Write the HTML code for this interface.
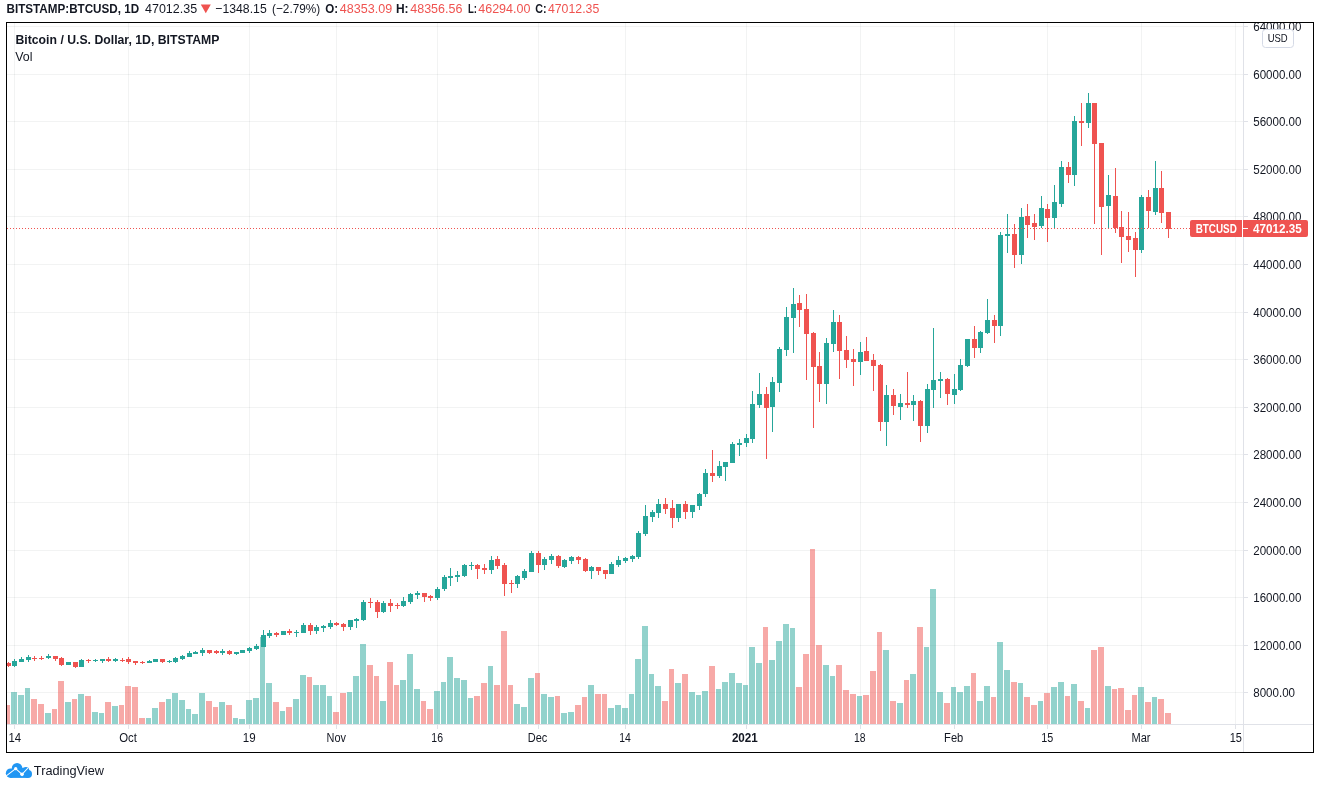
<!DOCTYPE html>
<html><head><meta charset="utf-8"><title>BTCUSD</title>
<style>html,body{margin:0;padding:0;background:#fff;}body{width:1320px;height:789px;overflow:hidden;font-family:"Liberation Sans",sans-serif;}svg{display:block;will-change:transform;}text{font-family:"Liberation Sans",sans-serif;}</style>
</head><body>
<svg width="1320" height="789" viewBox="0 0 1320 789">
<rect x="0" y="0" width="1320" height="789" fill="#ffffff"/>
<defs><clipPath id="pane"><rect x="7" y="23" width="1236" height="701"/></clipPath><clipPath id="inner"><rect x="7" y="23" width="1306" height="729"/></clipPath></defs>
<g shape-rendering="crispEdges" fill="rgba(42,46,57,0.06)">
<rect x="14" y="23" width="1" height="701"/>
<rect x="128" y="23" width="1" height="701"/>
<rect x="249" y="23" width="1" height="701"/>
<rect x="336" y="23" width="1" height="701"/>
<rect x="437" y="23" width="1" height="701"/>
<rect x="538" y="23" width="1" height="701"/>
<rect x="625" y="23" width="1" height="701"/>
<rect x="746" y="23" width="1" height="701"/>
<rect x="860" y="23" width="1" height="701"/>
<rect x="954" y="23" width="1" height="701"/>
<rect x="1047" y="23" width="1" height="701"/>
<rect x="1141" y="23" width="1" height="701"/>
<rect x="1235" y="23" width="1" height="701"/>
<rect x="7" y="26" width="1236" height="1"/>
<rect x="7" y="74" width="1236" height="1"/>
<rect x="7" y="121" width="1236" height="1"/>
<rect x="7" y="169" width="1236" height="1"/>
<rect x="7" y="216" width="1236" height="1"/>
<rect x="7" y="264" width="1236" height="1"/>
<rect x="7" y="312" width="1236" height="1"/>
<rect x="7" y="359" width="1236" height="1"/>
<rect x="7" y="407" width="1236" height="1"/>
<rect x="7" y="454" width="1236" height="1"/>
<rect x="7" y="502" width="1236" height="1"/>
<rect x="7" y="550" width="1236" height="1"/>
<rect x="7" y="597" width="1236" height="1"/>
<rect x="7" y="645" width="1236" height="1"/>
<rect x="7" y="692" width="1236" height="1"/>
</g>
<g shape-rendering="crispEdges" clip-path="url(#pane)">
<rect x="5" y="705" width="5" height="19" fill="rgba(239,83,80,0.5)"/>
<rect x="11" y="692" width="6" height="32" fill="rgba(38,166,154,0.5)"/>
<rect x="18" y="695" width="6" height="29" fill="rgba(38,166,154,0.5)"/>
<rect x="25" y="688" width="5" height="36" fill="rgba(38,166,154,0.5)"/>
<rect x="31" y="699" width="6" height="25" fill="rgba(239,83,80,0.5)"/>
<rect x="38" y="704" width="6" height="20" fill="rgba(239,83,80,0.5)"/>
<rect x="45" y="713" width="6" height="11" fill="rgba(38,166,154,0.5)"/>
<rect x="52" y="709" width="5" height="15" fill="rgba(239,83,80,0.5)"/>
<rect x="58" y="681" width="6" height="43" fill="rgba(239,83,80,0.5)"/>
<rect x="65" y="702" width="6" height="22" fill="rgba(38,166,154,0.5)"/>
<rect x="72" y="699" width="5" height="25" fill="rgba(239,83,80,0.5)"/>
<rect x="78" y="694" width="6" height="30" fill="rgba(38,166,154,0.5)"/>
<rect x="85" y="696" width="6" height="28" fill="rgba(239,83,80,0.5)"/>
<rect x="92" y="712" width="6" height="12" fill="rgba(38,166,154,0.5)"/>
<rect x="99" y="713" width="5" height="11" fill="rgba(38,166,154,0.5)"/>
<rect x="105" y="702" width="6" height="22" fill="rgba(239,83,80,0.5)"/>
<rect x="112" y="706" width="6" height="18" fill="rgba(38,166,154,0.5)"/>
<rect x="119" y="705" width="5" height="19" fill="rgba(239,83,80,0.5)"/>
<rect x="125" y="686" width="6" height="38" fill="rgba(239,83,80,0.5)"/>
<rect x="132" y="687" width="6" height="37" fill="rgba(239,83,80,0.5)"/>
<rect x="139" y="718" width="6" height="6" fill="rgba(239,83,80,0.5)"/>
<rect x="146" y="718" width="5" height="6" fill="rgba(38,166,154,0.5)"/>
<rect x="152" y="708" width="6" height="16" fill="rgba(38,166,154,0.5)"/>
<rect x="159" y="702" width="6" height="22" fill="rgba(239,83,80,0.5)"/>
<rect x="166" y="699" width="5" height="25" fill="rgba(38,166,154,0.5)"/>
<rect x="172" y="693" width="6" height="31" fill="rgba(38,166,154,0.5)"/>
<rect x="179" y="700" width="6" height="24" fill="rgba(38,166,154,0.5)"/>
<rect x="186" y="709" width="5" height="15" fill="rgba(38,166,154,0.5)"/>
<rect x="192" y="714" width="6" height="10" fill="rgba(38,166,154,0.5)"/>
<rect x="199" y="693" width="6" height="31" fill="rgba(38,166,154,0.5)"/>
<rect x="206" y="701" width="6" height="23" fill="rgba(239,83,80,0.5)"/>
<rect x="213" y="707" width="5" height="17" fill="rgba(239,83,80,0.5)"/>
<rect x="219" y="702" width="6" height="22" fill="rgba(38,166,154,0.5)"/>
<rect x="226" y="705" width="6" height="19" fill="rgba(239,83,80,0.5)"/>
<rect x="233" y="718" width="5" height="6" fill="rgba(38,166,154,0.5)"/>
<rect x="239" y="719" width="6" height="5" fill="rgba(38,166,154,0.5)"/>
<rect x="246" y="700" width="6" height="24" fill="rgba(38,166,154,0.5)"/>
<rect x="253" y="698" width="6" height="26" fill="rgba(38,166,154,0.5)"/>
<rect x="260" y="637" width="5" height="87" fill="rgba(38,166,154,0.5)"/>
<rect x="266" y="683" width="6" height="41" fill="rgba(38,166,154,0.5)"/>
<rect x="273" y="702" width="6" height="22" fill="rgba(239,83,80,0.5)"/>
<rect x="280" y="711" width="5" height="13" fill="rgba(38,166,154,0.5)"/>
<rect x="286" y="707" width="6" height="17" fill="rgba(239,83,80,0.5)"/>
<rect x="293" y="699" width="6" height="25" fill="rgba(38,166,154,0.5)"/>
<rect x="300" y="675" width="6" height="49" fill="rgba(38,166,154,0.5)"/>
<rect x="307" y="677" width="5" height="47" fill="rgba(239,83,80,0.5)"/>
<rect x="313" y="685" width="6" height="39" fill="rgba(38,166,154,0.5)"/>
<rect x="320" y="685" width="6" height="39" fill="rgba(38,166,154,0.5)"/>
<rect x="327" y="696" width="5" height="28" fill="rgba(38,166,154,0.5)"/>
<rect x="333" y="712" width="6" height="12" fill="rgba(239,83,80,0.5)"/>
<rect x="340" y="693" width="6" height="31" fill="rgba(239,83,80,0.5)"/>
<rect x="347" y="692" width="5" height="32" fill="rgba(38,166,154,0.5)"/>
<rect x="353" y="676" width="6" height="48" fill="rgba(38,166,154,0.5)"/>
<rect x="360" y="644" width="6" height="80" fill="rgba(38,166,154,0.5)"/>
<rect x="367" y="665" width="6" height="59" fill="rgba(239,83,80,0.5)"/>
<rect x="374" y="676" width="5" height="48" fill="rgba(239,83,80,0.5)"/>
<rect x="380" y="701" width="6" height="23" fill="rgba(38,166,154,0.5)"/>
<rect x="387" y="662" width="6" height="62" fill="rgba(239,83,80,0.5)"/>
<rect x="394" y="685" width="5" height="39" fill="rgba(239,83,80,0.5)"/>
<rect x="400" y="680" width="6" height="44" fill="rgba(38,166,154,0.5)"/>
<rect x="407" y="654" width="6" height="70" fill="rgba(38,166,154,0.5)"/>
<rect x="414" y="689" width="6" height="35" fill="rgba(38,166,154,0.5)"/>
<rect x="421" y="701" width="5" height="23" fill="rgba(239,83,80,0.5)"/>
<rect x="427" y="709" width="6" height="15" fill="rgba(239,83,80,0.5)"/>
<rect x="434" y="691" width="6" height="33" fill="rgba(38,166,154,0.5)"/>
<rect x="441" y="682" width="5" height="42" fill="rgba(38,166,154,0.5)"/>
<rect x="447" y="657" width="6" height="67" fill="rgba(38,166,154,0.5)"/>
<rect x="454" y="678" width="6" height="46" fill="rgba(38,166,154,0.5)"/>
<rect x="461" y="680" width="6" height="44" fill="rgba(38,166,154,0.5)"/>
<rect x="468" y="698" width="5" height="26" fill="rgba(38,166,154,0.5)"/>
<rect x="474" y="696" width="6" height="28" fill="rgba(239,83,80,0.5)"/>
<rect x="481" y="683" width="6" height="41" fill="rgba(239,83,80,0.5)"/>
<rect x="488" y="666" width="5" height="58" fill="rgba(38,166,154,0.5)"/>
<rect x="494" y="685" width="6" height="39" fill="rgba(239,83,80,0.5)"/>
<rect x="501" y="631" width="6" height="93" fill="rgba(239,83,80,0.5)"/>
<rect x="508" y="685" width="5" height="39" fill="rgba(239,83,80,0.5)"/>
<rect x="514" y="704" width="6" height="20" fill="rgba(38,166,154,0.5)"/>
<rect x="521" y="707" width="6" height="17" fill="rgba(38,166,154,0.5)"/>
<rect x="528" y="678" width="6" height="46" fill="rgba(38,166,154,0.5)"/>
<rect x="535" y="673" width="5" height="51" fill="rgba(239,83,80,0.5)"/>
<rect x="541" y="694" width="6" height="30" fill="rgba(38,166,154,0.5)"/>
<rect x="548" y="697" width="6" height="27" fill="rgba(38,166,154,0.5)"/>
<rect x="555" y="696" width="5" height="28" fill="rgba(239,83,80,0.5)"/>
<rect x="561" y="713" width="6" height="11" fill="rgba(38,166,154,0.5)"/>
<rect x="568" y="712" width="6" height="12" fill="rgba(38,166,154,0.5)"/>
<rect x="575" y="705" width="6" height="19" fill="rgba(239,83,80,0.5)"/>
<rect x="582" y="697" width="5" height="27" fill="rgba(239,83,80,0.5)"/>
<rect x="588" y="685" width="6" height="39" fill="rgba(38,166,154,0.5)"/>
<rect x="595" y="694" width="6" height="30" fill="rgba(239,83,80,0.5)"/>
<rect x="602" y="694" width="5" height="30" fill="rgba(239,83,80,0.5)"/>
<rect x="608" y="708" width="6" height="16" fill="rgba(38,166,154,0.5)"/>
<rect x="615" y="705" width="6" height="19" fill="rgba(38,166,154,0.5)"/>
<rect x="622" y="708" width="6" height="16" fill="rgba(38,166,154,0.5)"/>
<rect x="629" y="694" width="5" height="30" fill="rgba(38,166,154,0.5)"/>
<rect x="635" y="659" width="6" height="65" fill="rgba(38,166,154,0.5)"/>
<rect x="642" y="626" width="6" height="98" fill="rgba(38,166,154,0.5)"/>
<rect x="649" y="674" width="5" height="50" fill="rgba(38,166,154,0.5)"/>
<rect x="655" y="686" width="6" height="38" fill="rgba(38,166,154,0.5)"/>
<rect x="662" y="701" width="6" height="23" fill="rgba(239,83,80,0.5)"/>
<rect x="669" y="669" width="5" height="55" fill="rgba(239,83,80,0.5)"/>
<rect x="675" y="683" width="6" height="41" fill="rgba(38,166,154,0.5)"/>
<rect x="682" y="674" width="6" height="50" fill="rgba(239,83,80,0.5)"/>
<rect x="689" y="692" width="6" height="32" fill="rgba(38,166,154,0.5)"/>
<rect x="696" y="695" width="5" height="29" fill="rgba(38,166,154,0.5)"/>
<rect x="702" y="691" width="6" height="33" fill="rgba(38,166,154,0.5)"/>
<rect x="709" y="666" width="6" height="58" fill="rgba(239,83,80,0.5)"/>
<rect x="716" y="689" width="5" height="35" fill="rgba(38,166,154,0.5)"/>
<rect x="722" y="682" width="6" height="42" fill="rgba(38,166,154,0.5)"/>
<rect x="729" y="673" width="6" height="51" fill="rgba(38,166,154,0.5)"/>
<rect x="736" y="683" width="6" height="41" fill="rgba(38,166,154,0.5)"/>
<rect x="743" y="685" width="5" height="39" fill="rgba(38,166,154,0.5)"/>
<rect x="749" y="647" width="6" height="77" fill="rgba(38,166,154,0.5)"/>
<rect x="756" y="663" width="6" height="61" fill="rgba(38,166,154,0.5)"/>
<rect x="763" y="627" width="5" height="97" fill="rgba(239,83,80,0.5)"/>
<rect x="769" y="660" width="6" height="64" fill="rgba(38,166,154,0.5)"/>
<rect x="776" y="641" width="6" height="83" fill="rgba(38,166,154,0.5)"/>
<rect x="783" y="624" width="6" height="100" fill="rgba(38,166,154,0.5)"/>
<rect x="790" y="628" width="5" height="96" fill="rgba(38,166,154,0.5)"/>
<rect x="796" y="687" width="6" height="37" fill="rgba(239,83,80,0.5)"/>
<rect x="803" y="654" width="6" height="70" fill="rgba(239,83,80,0.5)"/>
<rect x="810" y="549" width="5" height="175" fill="rgba(239,83,80,0.5)"/>
<rect x="816" y="645" width="6" height="79" fill="rgba(239,83,80,0.5)"/>
<rect x="823" y="665" width="6" height="59" fill="rgba(38,166,154,0.5)"/>
<rect x="830" y="676" width="5" height="48" fill="rgba(38,166,154,0.5)"/>
<rect x="836" y="665" width="6" height="59" fill="rgba(239,83,80,0.5)"/>
<rect x="843" y="690" width="6" height="34" fill="rgba(239,83,80,0.5)"/>
<rect x="850" y="694" width="6" height="30" fill="rgba(239,83,80,0.5)"/>
<rect x="857" y="696" width="5" height="28" fill="rgba(38,166,154,0.5)"/>
<rect x="863" y="695" width="6" height="29" fill="rgba(239,83,80,0.5)"/>
<rect x="870" y="671" width="6" height="53" fill="rgba(239,83,80,0.5)"/>
<rect x="877" y="632" width="5" height="92" fill="rgba(239,83,80,0.5)"/>
<rect x="883" y="650" width="6" height="74" fill="rgba(38,166,154,0.5)"/>
<rect x="890" y="701" width="6" height="23" fill="rgba(239,83,80,0.5)"/>
<rect x="897" y="703" width="6" height="21" fill="rgba(38,166,154,0.5)"/>
<rect x="904" y="680" width="5" height="44" fill="rgba(239,83,80,0.5)"/>
<rect x="910" y="674" width="6" height="50" fill="rgba(38,166,154,0.5)"/>
<rect x="917" y="627" width="6" height="97" fill="rgba(239,83,80,0.5)"/>
<rect x="924" y="647" width="5" height="77" fill="rgba(38,166,154,0.5)"/>
<rect x="930" y="589" width="6" height="135" fill="rgba(38,166,154,0.5)"/>
<rect x="937" y="692" width="6" height="32" fill="rgba(38,166,154,0.5)"/>
<rect x="944" y="703" width="6" height="21" fill="rgba(239,83,80,0.5)"/>
<rect x="951" y="687" width="5" height="37" fill="rgba(38,166,154,0.5)"/>
<rect x="957" y="692" width="6" height="32" fill="rgba(38,166,154,0.5)"/>
<rect x="964" y="686" width="6" height="38" fill="rgba(38,166,154,0.5)"/>
<rect x="971" y="673" width="5" height="51" fill="rgba(239,83,80,0.5)"/>
<rect x="977" y="701" width="6" height="23" fill="rgba(38,166,154,0.5)"/>
<rect x="984" y="686" width="6" height="38" fill="rgba(38,166,154,0.5)"/>
<rect x="991" y="697" width="5" height="27" fill="rgba(239,83,80,0.5)"/>
<rect x="997" y="642" width="6" height="82" fill="rgba(38,166,154,0.5)"/>
<rect x="1004" y="670" width="6" height="54" fill="rgba(38,166,154,0.5)"/>
<rect x="1011" y="682" width="6" height="42" fill="rgba(239,83,80,0.5)"/>
<rect x="1018" y="683" width="5" height="41" fill="rgba(38,166,154,0.5)"/>
<rect x="1024" y="697" width="6" height="27" fill="rgba(239,83,80,0.5)"/>
<rect x="1031" y="705" width="6" height="19" fill="rgba(239,83,80,0.5)"/>
<rect x="1038" y="701" width="5" height="23" fill="rgba(38,166,154,0.5)"/>
<rect x="1044" y="693" width="6" height="31" fill="rgba(239,83,80,0.5)"/>
<rect x="1051" y="687" width="6" height="37" fill="rgba(38,166,154,0.5)"/>
<rect x="1058" y="682" width="6" height="42" fill="rgba(38,166,154,0.5)"/>
<rect x="1065" y="696" width="5" height="28" fill="rgba(239,83,80,0.5)"/>
<rect x="1071" y="684" width="6" height="40" fill="rgba(38,166,154,0.5)"/>
<rect x="1078" y="701" width="6" height="23" fill="rgba(239,83,80,0.5)"/>
<rect x="1085" y="708" width="5" height="16" fill="rgba(38,166,154,0.5)"/>
<rect x="1091" y="650" width="6" height="74" fill="rgba(239,83,80,0.5)"/>
<rect x="1098" y="647" width="6" height="77" fill="rgba(239,83,80,0.5)"/>
<rect x="1105" y="686" width="6" height="38" fill="rgba(38,166,154,0.5)"/>
<rect x="1112" y="689" width="5" height="35" fill="rgba(239,83,80,0.5)"/>
<rect x="1118" y="688" width="6" height="36" fill="rgba(239,83,80,0.5)"/>
<rect x="1125" y="710" width="6" height="14" fill="rgba(239,83,80,0.5)"/>
<rect x="1132" y="695" width="5" height="29" fill="rgba(239,83,80,0.5)"/>
<rect x="1138" y="687" width="6" height="37" fill="rgba(38,166,154,0.5)"/>
<rect x="1145" y="702" width="6" height="22" fill="rgba(239,83,80,0.5)"/>
<rect x="1152" y="697" width="5" height="27" fill="rgba(38,166,154,0.5)"/>
<rect x="1158" y="699" width="6" height="25" fill="rgba(239,83,80,0.5)"/>
<rect x="1165" y="713" width="6" height="11" fill="rgba(239,83,80,0.5)"/>
</g>
<g shape-rendering="crispEdges" clip-path="url(#pane)">
<rect x="8" y="662" width="1" height="5" fill="#ef5350"/>
<rect x="6" y="663" width="5" height="3" fill="#ef5350"/>
<rect x="14" y="659" width="1" height="8" fill="#26a69a"/>
<rect x="12" y="661" width="5" height="5" fill="#26a69a"/>
<rect x="21" y="657" width="1" height="5" fill="#26a69a"/>
<rect x="19" y="659" width="5" height="3" fill="#26a69a"/>
<rect x="28" y="655" width="1" height="7" fill="#26a69a"/>
<rect x="26" y="657" width="5" height="3" fill="#26a69a"/>
<rect x="34" y="656" width="1" height="5" fill="#ef5350"/>
<rect x="32" y="658" width="5" height="1" fill="#ef5350"/>
<rect x="41" y="656" width="1" height="4" fill="#ef5350"/>
<rect x="39" y="658" width="5" height="1" fill="#ef5350"/>
<rect x="48" y="654" width="1" height="5" fill="#26a69a"/>
<rect x="46" y="656" width="5" height="2" fill="#26a69a"/>
<rect x="55" y="656" width="1" height="5" fill="#ef5350"/>
<rect x="53" y="656" width="5" height="3" fill="#ef5350"/>
<rect x="61" y="657" width="1" height="9" fill="#ef5350"/>
<rect x="59" y="658" width="5" height="7" fill="#ef5350"/>
<rect x="68" y="662" width="1" height="3" fill="#26a69a"/>
<rect x="66" y="662" width="5" height="3" fill="#26a69a"/>
<rect x="75" y="662" width="1" height="6" fill="#ef5350"/>
<rect x="73" y="662" width="5" height="5" fill="#ef5350"/>
<rect x="81" y="659" width="1" height="8" fill="#26a69a"/>
<rect x="79" y="660" width="5" height="7" fill="#26a69a"/>
<rect x="88" y="659" width="1" height="4" fill="#ef5350"/>
<rect x="86" y="660" width="5" height="1" fill="#ef5350"/>
<rect x="95" y="659" width="1" height="3" fill="#26a69a"/>
<rect x="93" y="660" width="5" height="1" fill="#26a69a"/>
<rect x="102" y="659" width="1" height="4" fill="#26a69a"/>
<rect x="100" y="659" width="5" height="2" fill="#26a69a"/>
<rect x="108" y="657" width="1" height="5" fill="#ef5350"/>
<rect x="106" y="659" width="5" height="2" fill="#ef5350"/>
<rect x="115" y="658" width="1" height="4" fill="#26a69a"/>
<rect x="113" y="659" width="5" height="2" fill="#26a69a"/>
<rect x="122" y="658" width="1" height="4" fill="#ef5350"/>
<rect x="120" y="660" width="5" height="1" fill="#ef5350"/>
<rect x="128" y="657" width="1" height="7" fill="#ef5350"/>
<rect x="126" y="659" width="5" height="3" fill="#ef5350"/>
<rect x="135" y="661" width="1" height="4" fill="#ef5350"/>
<rect x="133" y="661" width="5" height="2" fill="#ef5350"/>
<rect x="142" y="661" width="1" height="3" fill="#ef5350"/>
<rect x="140" y="662" width="5" height="1" fill="#ef5350"/>
<rect x="149" y="660" width="1" height="3" fill="#26a69a"/>
<rect x="147" y="661" width="5" height="2" fill="#26a69a"/>
<rect x="155" y="659" width="1" height="3" fill="#26a69a"/>
<rect x="153" y="659" width="5" height="3" fill="#26a69a"/>
<rect x="162" y="659" width="1" height="4" fill="#ef5350"/>
<rect x="160" y="659" width="5" height="3" fill="#ef5350"/>
<rect x="169" y="660" width="1" height="3" fill="#26a69a"/>
<rect x="167" y="661" width="5" height="1" fill="#26a69a"/>
<rect x="175" y="657" width="1" height="6" fill="#26a69a"/>
<rect x="173" y="658" width="5" height="4" fill="#26a69a"/>
<rect x="182" y="655" width="1" height="5" fill="#26a69a"/>
<rect x="180" y="656" width="5" height="3" fill="#26a69a"/>
<rect x="189" y="651" width="1" height="6" fill="#26a69a"/>
<rect x="187" y="653" width="5" height="4" fill="#26a69a"/>
<rect x="195" y="651" width="1" height="3" fill="#26a69a"/>
<rect x="193" y="652" width="5" height="2" fill="#26a69a"/>
<rect x="202" y="648" width="1" height="8" fill="#26a69a"/>
<rect x="200" y="650" width="5" height="3" fill="#26a69a"/>
<rect x="209" y="650" width="1" height="4" fill="#ef5350"/>
<rect x="207" y="650" width="5" height="3" fill="#ef5350"/>
<rect x="216" y="650" width="1" height="4" fill="#ef5350"/>
<rect x="214" y="651" width="5" height="2" fill="#ef5350"/>
<rect x="222" y="649" width="1" height="6" fill="#26a69a"/>
<rect x="220" y="651" width="5" height="2" fill="#26a69a"/>
<rect x="229" y="650" width="1" height="5" fill="#ef5350"/>
<rect x="227" y="651" width="5" height="3" fill="#ef5350"/>
<rect x="236" y="652" width="1" height="3" fill="#26a69a"/>
<rect x="234" y="652" width="5" height="2" fill="#26a69a"/>
<rect x="242" y="650" width="1" height="3" fill="#26a69a"/>
<rect x="240" y="650" width="5" height="3" fill="#26a69a"/>
<rect x="249" y="647" width="1" height="6" fill="#26a69a"/>
<rect x="247" y="648" width="5" height="3" fill="#26a69a"/>
<rect x="256" y="644" width="1" height="6" fill="#26a69a"/>
<rect x="254" y="646" width="5" height="3" fill="#26a69a"/>
<rect x="263" y="630" width="1" height="17" fill="#26a69a"/>
<rect x="261" y="635" width="5" height="12" fill="#26a69a"/>
<rect x="269" y="630" width="1" height="8" fill="#26a69a"/>
<rect x="267" y="633" width="5" height="3" fill="#26a69a"/>
<rect x="276" y="632" width="1" height="5" fill="#ef5350"/>
<rect x="274" y="633" width="5" height="2" fill="#ef5350"/>
<rect x="283" y="631" width="1" height="4" fill="#26a69a"/>
<rect x="281" y="631" width="5" height="4" fill="#26a69a"/>
<rect x="289" y="629" width="1" height="6" fill="#ef5350"/>
<rect x="287" y="631" width="5" height="2" fill="#ef5350"/>
<rect x="296" y="630" width="1" height="7" fill="#26a69a"/>
<rect x="294" y="632" width="5" height="1" fill="#26a69a"/>
<rect x="303" y="623" width="1" height="10" fill="#26a69a"/>
<rect x="301" y="625" width="5" height="8" fill="#26a69a"/>
<rect x="310" y="623" width="1" height="12" fill="#ef5350"/>
<rect x="308" y="625" width="5" height="6" fill="#ef5350"/>
<rect x="316" y="625" width="1" height="9" fill="#26a69a"/>
<rect x="314" y="627" width="5" height="4" fill="#26a69a"/>
<rect x="323" y="625" width="1" height="7" fill="#26a69a"/>
<rect x="321" y="626" width="5" height="2" fill="#26a69a"/>
<rect x="330" y="620" width="1" height="9" fill="#26a69a"/>
<rect x="328" y="623" width="5" height="4" fill="#26a69a"/>
<rect x="336" y="622" width="1" height="4" fill="#ef5350"/>
<rect x="334" y="623" width="5" height="2" fill="#ef5350"/>
<rect x="343" y="623" width="1" height="8" fill="#ef5350"/>
<rect x="341" y="624" width="5" height="3" fill="#ef5350"/>
<rect x="350" y="620" width="1" height="10" fill="#26a69a"/>
<rect x="348" y="620" width="5" height="7" fill="#26a69a"/>
<rect x="356" y="618" width="1" height="10" fill="#26a69a"/>
<rect x="354" y="619" width="5" height="2" fill="#26a69a"/>
<rect x="363" y="600" width="1" height="21" fill="#26a69a"/>
<rect x="361" y="602" width="5" height="18" fill="#26a69a"/>
<rect x="370" y="598" width="1" height="10" fill="#ef5350"/>
<rect x="368" y="602" width="5" height="1" fill="#ef5350"/>
<rect x="377" y="600" width="1" height="18" fill="#ef5350"/>
<rect x="375" y="602" width="5" height="10" fill="#ef5350"/>
<rect x="383" y="601" width="1" height="12" fill="#26a69a"/>
<rect x="381" y="603" width="5" height="9" fill="#26a69a"/>
<rect x="390" y="599" width="1" height="13" fill="#ef5350"/>
<rect x="388" y="603" width="5" height="3" fill="#ef5350"/>
<rect x="397" y="603" width="1" height="6" fill="#ef5350"/>
<rect x="395" y="605" width="5" height="1" fill="#ef5350"/>
<rect x="403" y="597" width="1" height="10" fill="#26a69a"/>
<rect x="401" y="601" width="5" height="5" fill="#26a69a"/>
<rect x="410" y="593" width="1" height="11" fill="#26a69a"/>
<rect x="408" y="594" width="5" height="8" fill="#26a69a"/>
<rect x="417" y="591" width="1" height="8" fill="#26a69a"/>
<rect x="415" y="593" width="5" height="2" fill="#26a69a"/>
<rect x="424" y="593" width="1" height="9" fill="#ef5350"/>
<rect x="422" y="593" width="5" height="4" fill="#ef5350"/>
<rect x="430" y="595" width="1" height="6" fill="#ef5350"/>
<rect x="428" y="596" width="5" height="2" fill="#ef5350"/>
<rect x="437" y="587" width="1" height="13" fill="#26a69a"/>
<rect x="435" y="589" width="5" height="9" fill="#26a69a"/>
<rect x="444" y="575" width="1" height="16" fill="#26a69a"/>
<rect x="442" y="577" width="5" height="12" fill="#26a69a"/>
<rect x="450" y="568" width="1" height="18" fill="#26a69a"/>
<rect x="448" y="576" width="5" height="2" fill="#26a69a"/>
<rect x="457" y="571" width="1" height="11" fill="#26a69a"/>
<rect x="455" y="575" width="5" height="2" fill="#26a69a"/>
<rect x="464" y="564" width="1" height="13" fill="#26a69a"/>
<rect x="462" y="565" width="5" height="11" fill="#26a69a"/>
<rect x="471" y="562" width="1" height="8" fill="#26a69a"/>
<rect x="469" y="565" width="5" height="1" fill="#26a69a"/>
<rect x="477" y="564" width="1" height="15" fill="#ef5350"/>
<rect x="475" y="565" width="5" height="4" fill="#ef5350"/>
<rect x="484" y="564" width="1" height="10" fill="#ef5350"/>
<rect x="482" y="568" width="5" height="2" fill="#ef5350"/>
<rect x="491" y="556" width="1" height="18" fill="#26a69a"/>
<rect x="489" y="560" width="5" height="10" fill="#26a69a"/>
<rect x="497" y="556" width="1" height="13" fill="#ef5350"/>
<rect x="495" y="559" width="5" height="7" fill="#ef5350"/>
<rect x="504" y="563" width="1" height="33" fill="#ef5350"/>
<rect x="502" y="565" width="5" height="19" fill="#ef5350"/>
<rect x="511" y="580" width="1" height="13" fill="#ef5350"/>
<rect x="509" y="583" width="5" height="1" fill="#ef5350"/>
<rect x="517" y="575" width="1" height="13" fill="#26a69a"/>
<rect x="515" y="576" width="5" height="8" fill="#26a69a"/>
<rect x="524" y="569" width="1" height="11" fill="#26a69a"/>
<rect x="522" y="571" width="5" height="7" fill="#26a69a"/>
<rect x="531" y="551" width="1" height="21" fill="#26a69a"/>
<rect x="529" y="553" width="5" height="19" fill="#26a69a"/>
<rect x="538" y="551" width="1" height="22" fill="#ef5350"/>
<rect x="536" y="553" width="5" height="12" fill="#ef5350"/>
<rect x="544" y="557" width="1" height="13" fill="#26a69a"/>
<rect x="542" y="559" width="5" height="6" fill="#26a69a"/>
<rect x="551" y="554" width="1" height="10" fill="#26a69a"/>
<rect x="549" y="556" width="5" height="4" fill="#26a69a"/>
<rect x="558" y="555" width="1" height="13" fill="#ef5350"/>
<rect x="556" y="556" width="5" height="10" fill="#ef5350"/>
<rect x="564" y="559" width="1" height="9" fill="#26a69a"/>
<rect x="562" y="560" width="5" height="7" fill="#26a69a"/>
<rect x="571" y="556" width="1" height="8" fill="#26a69a"/>
<rect x="569" y="557" width="5" height="4" fill="#26a69a"/>
<rect x="578" y="556" width="1" height="8" fill="#ef5350"/>
<rect x="576" y="557" width="5" height="3" fill="#ef5350"/>
<rect x="585" y="558" width="1" height="14" fill="#ef5350"/>
<rect x="583" y="559" width="5" height="12" fill="#ef5350"/>
<rect x="591" y="566" width="1" height="13" fill="#26a69a"/>
<rect x="589" y="567" width="5" height="4" fill="#26a69a"/>
<rect x="598" y="567" width="1" height="8" fill="#ef5350"/>
<rect x="596" y="567" width="5" height="4" fill="#ef5350"/>
<rect x="605" y="570" width="1" height="9" fill="#ef5350"/>
<rect x="603" y="570" width="5" height="4" fill="#ef5350"/>
<rect x="611" y="562" width="1" height="12" fill="#26a69a"/>
<rect x="609" y="564" width="5" height="10" fill="#26a69a"/>
<rect x="618" y="556" width="1" height="11" fill="#26a69a"/>
<rect x="616" y="560" width="5" height="5" fill="#26a69a"/>
<rect x="625" y="557" width="1" height="6" fill="#26a69a"/>
<rect x="623" y="558" width="5" height="3" fill="#26a69a"/>
<rect x="632" y="555" width="1" height="7" fill="#26a69a"/>
<rect x="630" y="556" width="5" height="3" fill="#26a69a"/>
<rect x="638" y="531" width="1" height="28" fill="#26a69a"/>
<rect x="636" y="533" width="5" height="24" fill="#26a69a"/>
<rect x="645" y="505" width="1" height="31" fill="#26a69a"/>
<rect x="643" y="516" width="5" height="18" fill="#26a69a"/>
<rect x="652" y="510" width="1" height="12" fill="#26a69a"/>
<rect x="650" y="512" width="5" height="5" fill="#26a69a"/>
<rect x="658" y="499" width="1" height="19" fill="#26a69a"/>
<rect x="656" y="504" width="5" height="9" fill="#26a69a"/>
<rect x="665" y="498" width="1" height="16" fill="#ef5350"/>
<rect x="663" y="504" width="5" height="5" fill="#ef5350"/>
<rect x="672" y="500" width="1" height="28" fill="#ef5350"/>
<rect x="670" y="508" width="5" height="10" fill="#ef5350"/>
<rect x="678" y="504" width="1" height="18" fill="#26a69a"/>
<rect x="676" y="504" width="5" height="14" fill="#26a69a"/>
<rect x="685" y="501" width="1" height="18" fill="#ef5350"/>
<rect x="683" y="504" width="5" height="8" fill="#ef5350"/>
<rect x="692" y="505" width="1" height="13" fill="#26a69a"/>
<rect x="690" y="505" width="5" height="7" fill="#26a69a"/>
<rect x="699" y="493" width="1" height="17" fill="#26a69a"/>
<rect x="697" y="494" width="5" height="12" fill="#26a69a"/>
<rect x="705" y="469" width="1" height="28" fill="#26a69a"/>
<rect x="703" y="473" width="5" height="21" fill="#26a69a"/>
<rect x="712" y="450" width="1" height="32" fill="#ef5350"/>
<rect x="710" y="473" width="5" height="3" fill="#ef5350"/>
<rect x="719" y="461" width="1" height="17" fill="#26a69a"/>
<rect x="717" y="466" width="5" height="10" fill="#26a69a"/>
<rect x="725" y="462" width="1" height="19" fill="#26a69a"/>
<rect x="723" y="462" width="5" height="5" fill="#26a69a"/>
<rect x="732" y="442" width="1" height="21" fill="#26a69a"/>
<rect x="730" y="444" width="5" height="19" fill="#26a69a"/>
<rect x="739" y="439" width="1" height="17" fill="#26a69a"/>
<rect x="737" y="443" width="5" height="2" fill="#26a69a"/>
<rect x="746" y="434" width="1" height="13" fill="#26a69a"/>
<rect x="744" y="438" width="5" height="5" fill="#26a69a"/>
<rect x="752" y="391" width="1" height="52" fill="#26a69a"/>
<rect x="750" y="404" width="5" height="35" fill="#26a69a"/>
<rect x="759" y="373" width="1" height="35" fill="#26a69a"/>
<rect x="757" y="394" width="5" height="11" fill="#26a69a"/>
<rect x="766" y="387" width="1" height="72" fill="#ef5350"/>
<rect x="764" y="394" width="5" height="14" fill="#ef5350"/>
<rect x="772" y="377" width="1" height="55" fill="#26a69a"/>
<rect x="770" y="382" width="5" height="25" fill="#26a69a"/>
<rect x="779" y="347" width="1" height="45" fill="#26a69a"/>
<rect x="777" y="349" width="5" height="34" fill="#26a69a"/>
<rect x="786" y="307" width="1" height="49" fill="#26a69a"/>
<rect x="784" y="317" width="5" height="33" fill="#26a69a"/>
<rect x="793" y="288" width="1" height="65" fill="#26a69a"/>
<rect x="791" y="304" width="5" height="14" fill="#26a69a"/>
<rect x="799" y="295" width="1" height="32" fill="#ef5350"/>
<rect x="797" y="303" width="5" height="7" fill="#ef5350"/>
<rect x="806" y="294" width="1" height="86" fill="#ef5350"/>
<rect x="804" y="309" width="5" height="25" fill="#ef5350"/>
<rect x="813" y="332" width="1" height="96" fill="#ef5350"/>
<rect x="811" y="333" width="5" height="34" fill="#ef5350"/>
<rect x="819" y="352" width="1" height="50" fill="#ef5350"/>
<rect x="817" y="366" width="5" height="18" fill="#ef5350"/>
<rect x="826" y="338" width="1" height="66" fill="#26a69a"/>
<rect x="824" y="343" width="5" height="41" fill="#26a69a"/>
<rect x="833" y="310" width="1" height="42" fill="#26a69a"/>
<rect x="831" y="322" width="5" height="22" fill="#26a69a"/>
<rect x="839" y="315" width="1" height="64" fill="#ef5350"/>
<rect x="837" y="322" width="5" height="29" fill="#ef5350"/>
<rect x="846" y="336" width="1" height="32" fill="#ef5350"/>
<rect x="844" y="350" width="5" height="10" fill="#ef5350"/>
<rect x="853" y="349" width="1" height="37" fill="#ef5350"/>
<rect x="851" y="359" width="5" height="3" fill="#ef5350"/>
<rect x="860" y="342" width="1" height="33" fill="#26a69a"/>
<rect x="858" y="352" width="5" height="10" fill="#26a69a"/>
<rect x="866" y="337" width="1" height="24" fill="#ef5350"/>
<rect x="864" y="351" width="5" height="10" fill="#ef5350"/>
<rect x="873" y="354" width="1" height="37" fill="#ef5350"/>
<rect x="871" y="360" width="5" height="6" fill="#ef5350"/>
<rect x="880" y="364" width="1" height="67" fill="#ef5350"/>
<rect x="878" y="365" width="5" height="57" fill="#ef5350"/>
<rect x="886" y="385" width="1" height="61" fill="#26a69a"/>
<rect x="884" y="395" width="5" height="27" fill="#26a69a"/>
<rect x="893" y="389" width="1" height="26" fill="#ef5350"/>
<rect x="891" y="395" width="5" height="11" fill="#ef5350"/>
<rect x="900" y="394" width="1" height="26" fill="#26a69a"/>
<rect x="898" y="403" width="5" height="4" fill="#26a69a"/>
<rect x="907" y="372" width="1" height="36" fill="#ef5350"/>
<rect x="905" y="403" width="5" height="2" fill="#ef5350"/>
<rect x="913" y="395" width="1" height="26" fill="#26a69a"/>
<rect x="911" y="401" width="5" height="4" fill="#26a69a"/>
<rect x="920" y="400" width="1" height="42" fill="#ef5350"/>
<rect x="918" y="401" width="5" height="25" fill="#ef5350"/>
<rect x="927" y="384" width="1" height="49" fill="#26a69a"/>
<rect x="925" y="389" width="5" height="37" fill="#26a69a"/>
<rect x="933" y="328" width="1" height="80" fill="#26a69a"/>
<rect x="931" y="380" width="5" height="10" fill="#26a69a"/>
<rect x="940" y="372" width="1" height="26" fill="#26a69a"/>
<rect x="938" y="379" width="5" height="2" fill="#26a69a"/>
<rect x="947" y="378" width="1" height="27" fill="#ef5350"/>
<rect x="945" y="379" width="5" height="15" fill="#ef5350"/>
<rect x="954" y="374" width="1" height="30" fill="#26a69a"/>
<rect x="952" y="389" width="5" height="6" fill="#26a69a"/>
<rect x="960" y="359" width="1" height="32" fill="#26a69a"/>
<rect x="958" y="365" width="5" height="25" fill="#26a69a"/>
<rect x="967" y="339" width="1" height="28" fill="#26a69a"/>
<rect x="965" y="339" width="5" height="27" fill="#26a69a"/>
<rect x="974" y="326" width="1" height="32" fill="#ef5350"/>
<rect x="972" y="339" width="5" height="9" fill="#ef5350"/>
<rect x="980" y="331" width="1" height="22" fill="#26a69a"/>
<rect x="978" y="332" width="5" height="16" fill="#26a69a"/>
<rect x="987" y="299" width="1" height="35" fill="#26a69a"/>
<rect x="985" y="320" width="5" height="13" fill="#26a69a"/>
<rect x="994" y="315" width="1" height="28" fill="#ef5350"/>
<rect x="992" y="320" width="5" height="6" fill="#ef5350"/>
<rect x="1000" y="232" width="1" height="104" fill="#26a69a"/>
<rect x="998" y="235" width="5" height="91" fill="#26a69a"/>
<rect x="1007" y="214" width="1" height="39" fill="#26a69a"/>
<rect x="1005" y="234" width="5" height="2" fill="#26a69a"/>
<rect x="1014" y="224" width="1" height="44" fill="#ef5350"/>
<rect x="1012" y="234" width="5" height="21" fill="#ef5350"/>
<rect x="1021" y="208" width="1" height="56" fill="#26a69a"/>
<rect x="1019" y="217" width="5" height="38" fill="#26a69a"/>
<rect x="1027" y="204" width="1" height="34" fill="#ef5350"/>
<rect x="1025" y="216" width="5" height="9" fill="#ef5350"/>
<rect x="1034" y="214" width="1" height="26" fill="#ef5350"/>
<rect x="1032" y="223" width="5" height="4" fill="#ef5350"/>
<rect x="1041" y="196" width="1" height="32" fill="#26a69a"/>
<rect x="1039" y="208" width="5" height="18" fill="#26a69a"/>
<rect x="1047" y="204" width="1" height="38" fill="#ef5350"/>
<rect x="1045" y="209" width="5" height="9" fill="#ef5350"/>
<rect x="1054" y="185" width="1" height="43" fill="#26a69a"/>
<rect x="1052" y="202" width="5" height="16" fill="#26a69a"/>
<rect x="1061" y="161" width="1" height="46" fill="#26a69a"/>
<rect x="1059" y="167" width="5" height="37" fill="#26a69a"/>
<rect x="1068" y="162" width="1" height="21" fill="#ef5350"/>
<rect x="1066" y="167" width="5" height="8" fill="#ef5350"/>
<rect x="1074" y="116" width="1" height="70" fill="#26a69a"/>
<rect x="1072" y="121" width="5" height="54" fill="#26a69a"/>
<rect x="1081" y="103" width="1" height="43" fill="#ef5350"/>
<rect x="1079" y="121" width="5" height="2" fill="#ef5350"/>
<rect x="1088" y="93" width="1" height="35" fill="#26a69a"/>
<rect x="1086" y="103" width="5" height="20" fill="#26a69a"/>
<rect x="1094" y="103" width="1" height="121" fill="#ef5350"/>
<rect x="1092" y="103" width="5" height="41" fill="#ef5350"/>
<rect x="1101" y="143" width="1" height="112" fill="#ef5350"/>
<rect x="1099" y="143" width="5" height="64" fill="#ef5350"/>
<rect x="1108" y="175" width="1" height="53" fill="#26a69a"/>
<rect x="1106" y="195" width="5" height="11" fill="#26a69a"/>
<rect x="1115" y="168" width="1" height="65" fill="#ef5350"/>
<rect x="1113" y="196" width="5" height="32" fill="#ef5350"/>
<rect x="1121" y="211" width="1" height="52" fill="#ef5350"/>
<rect x="1119" y="227" width="5" height="10" fill="#ef5350"/>
<rect x="1128" y="212" width="1" height="40" fill="#ef5350"/>
<rect x="1126" y="236" width="5" height="4" fill="#ef5350"/>
<rect x="1135" y="232" width="1" height="45" fill="#ef5350"/>
<rect x="1133" y="238" width="5" height="12" fill="#ef5350"/>
<rect x="1141" y="195" width="1" height="58" fill="#26a69a"/>
<rect x="1139" y="197" width="5" height="53" fill="#26a69a"/>
<rect x="1148" y="190" width="1" height="38" fill="#ef5350"/>
<rect x="1146" y="197" width="5" height="14" fill="#ef5350"/>
<rect x="1155" y="161" width="1" height="54" fill="#26a69a"/>
<rect x="1153" y="188" width="5" height="24" fill="#26a69a"/>
<rect x="1161" y="171" width="1" height="52" fill="#ef5350"/>
<rect x="1159" y="188" width="5" height="25" fill="#ef5350"/>
<rect x="1168" y="212" width="1" height="26" fill="#ef5350"/>
<rect x="1166" y="212" width="5" height="17" fill="#ef5350"/>
</g>
<g shape-rendering="crispEdges">
<line x1="7" y1="228.5" x2="1243" y2="228.5" stroke="#ef5350" stroke-width="1" stroke-dasharray="1 2"/>
</g>
<g shape-rendering="crispEdges" fill="#e0e2e8">
<rect x="1243" y="23" width="1" height="729"/>
<rect x="7" y="724" width="1306" height="1"/>
<rect x="1244" y="26" width="4" height="1"/>
<rect x="1244" y="74" width="4" height="1"/>
<rect x="1244" y="121" width="4" height="1"/>
<rect x="1244" y="169" width="4" height="1"/>
<rect x="1244" y="216" width="4" height="1"/>
<rect x="1244" y="264" width="4" height="1"/>
<rect x="1244" y="312" width="4" height="1"/>
<rect x="1244" y="359" width="4" height="1"/>
<rect x="1244" y="407" width="4" height="1"/>
<rect x="1244" y="454" width="4" height="1"/>
<rect x="1244" y="502" width="4" height="1"/>
<rect x="1244" y="550" width="4" height="1"/>
<rect x="1244" y="597" width="4" height="1"/>
<rect x="1244" y="645" width="4" height="1"/>
<rect x="1244" y="692" width="4" height="1"/>
<rect x="14" y="725" width="1" height="4"/>
<rect x="128" y="725" width="1" height="4"/>
<rect x="249" y="725" width="1" height="4"/>
<rect x="336" y="725" width="1" height="4"/>
<rect x="437" y="725" width="1" height="4"/>
<rect x="538" y="725" width="1" height="4"/>
<rect x="625" y="725" width="1" height="4"/>
<rect x="746" y="725" width="1" height="4"/>
<rect x="860" y="725" width="1" height="4"/>
<rect x="954" y="725" width="1" height="4"/>
<rect x="1047" y="725" width="1" height="4"/>
<rect x="1141" y="725" width="1" height="4"/>
<rect x="1235" y="725" width="1" height="4"/>
</g>
<g clip-path="url(#inner)" fill="#131722" font-size="12px">
<text x="1253.22" y="30.9" textLength="48.24" lengthAdjust="spacingAndGlyphs">64000.00</text>
<text x="1253.22" y="78.9" textLength="48.24" lengthAdjust="spacingAndGlyphs">60000.00</text>
<text x="1253.22" y="125.9" textLength="48.24" lengthAdjust="spacingAndGlyphs">56000.00</text>
<text x="1253.22" y="173.9" textLength="48.24" lengthAdjust="spacingAndGlyphs">52000.00</text>
<text x="1253.22" y="220.9" textLength="48.24" lengthAdjust="spacingAndGlyphs">48000.00</text>
<text x="1253.22" y="268.9" textLength="48.24" lengthAdjust="spacingAndGlyphs">44000.00</text>
<text x="1253.22" y="316.9" textLength="48.24" lengthAdjust="spacingAndGlyphs">40000.00</text>
<text x="1253.22" y="363.9" textLength="48.24" lengthAdjust="spacingAndGlyphs">36000.00</text>
<text x="1253.22" y="411.9" textLength="48.24" lengthAdjust="spacingAndGlyphs">32000.00</text>
<text x="1253.22" y="458.9" textLength="48.24" lengthAdjust="spacingAndGlyphs">28000.00</text>
<text x="1253.22" y="506.9" textLength="48.24" lengthAdjust="spacingAndGlyphs">24000.00</text>
<text x="1253.22" y="554.9" textLength="48.24" lengthAdjust="spacingAndGlyphs">20000.00</text>
<text x="1253.22" y="601.9" textLength="48.24" lengthAdjust="spacingAndGlyphs">16000.00</text>
<text x="1253.22" y="649.9" textLength="48.24" lengthAdjust="spacingAndGlyphs">12000.00</text>
<text x="1253.22" y="696.9" textLength="41.81" lengthAdjust="spacingAndGlyphs">8000.00</text>
</g>
<rect x="1262.5" y="29.5" width="31" height="18" rx="3" ry="3" fill="#ffffff" stroke="#d5dae6" stroke-width="1"/>
<text x="1267.66" y="41.5" font-size="11.8px" fill="#131722" textLength="20.06" lengthAdjust="spacingAndGlyphs">USD</text>
<text x="8.46" y="741.8" font-size="12px" fill="#131722" textLength="12.66" lengthAdjust="spacingAndGlyphs">14</text>
<text x="119.22" y="741.8" font-size="12px" fill="#131722" textLength="17.69" lengthAdjust="spacingAndGlyphs">Oct</text>
<text x="242.86" y="741.8" font-size="12px" fill="#131722" textLength="12.85" lengthAdjust="spacingAndGlyphs">19</text>
<text x="326.54" y="741.8" font-size="12px" fill="#131722" textLength="19.43" lengthAdjust="spacingAndGlyphs">Nov</text>
<text x="431.32" y="741.8" font-size="12px" fill="#131722" textLength="11.65" lengthAdjust="spacingAndGlyphs">16</text>
<text x="527.76" y="741.8" font-size="12px" fill="#131722" textLength="19.54" lengthAdjust="spacingAndGlyphs">Dec</text>
<text x="619.22" y="741.8" font-size="12px" fill="#131722" textLength="11.53" lengthAdjust="spacingAndGlyphs">14</text>
<text x="731.88" y="741.8" font-size="12px" font-weight="bold" fill="#131722" textLength="25.96" lengthAdjust="spacingAndGlyphs">2021</text>
<text x="854.1" y="741.8" font-size="12px" fill="#131722" textLength="11.53" lengthAdjust="spacingAndGlyphs">18</text>
<text x="944.1" y="741.8" font-size="12px" fill="#131722" textLength="19.19" lengthAdjust="spacingAndGlyphs">Feb</text>
<text x="1041.32" y="741.8" font-size="12px" fill="#131722" textLength="11.99" lengthAdjust="spacingAndGlyphs">15</text>
<text x="1131.44" y="741.8" font-size="12px" fill="#131722" textLength="19.06" lengthAdjust="spacingAndGlyphs">Mar</text>
<text x="1229.76" y="741.8" font-size="12px" fill="#131722" textLength="12.25" lengthAdjust="spacingAndGlyphs">15</text>
<rect x="1190" y="220" width="118" height="17" rx="2" ry="2" fill="#ef5350"/>
<rect x="1242" y="220" width="1" height="17" fill="#ffffff" shape-rendering="crispEdges"/>
<rect x="1243" y="228" width="5" height="1" fill="#ffffff" shape-rendering="crispEdges"/>
<text x="1195.66" y="232.7" font-size="12px" font-weight="bold" fill="#ffffff" textLength="41.12" lengthAdjust="spacingAndGlyphs">BTCUSD</text>
<text x="1253.0" y="232.7" font-size="12px" font-weight="bold" fill="#ffffff" textLength="48.74" lengthAdjust="spacingAndGlyphs">47012.35</text>
<rect x="6.5" y="22.5" width="1307" height="730" fill="none" stroke="#000000" stroke-width="1" shape-rendering="crispEdges"/>
<text x="15.48" y="43.9" font-size="12.8px" font-weight="bold" fill="#131722" textLength="203.97" lengthAdjust="spacingAndGlyphs">Bitcoin / U.S. Dollar, 1D, BITSTAMP</text>
<text x="15.22" y="61.0" font-size="12.5px" fill="#131722" textLength="17.28" lengthAdjust="spacingAndGlyphs">Vol</text>
<text x="6.48" y="12.95" font-size="12.8px" font-weight="bold" fill="#131722" textLength="132.71" lengthAdjust="spacingAndGlyphs">BITSTAMP:BTCUSD, 1D</text>
<text x="145.0" y="12.95" font-size="12.8px" fill="#131722" textLength="52.15" lengthAdjust="spacingAndGlyphs">47012.35</text>
<path d="M200.8 4.6 L210.8 4.6 L205.8 13.3 Z" fill="#ef5350"/>
<text x="215.32" y="12.95" font-size="12.8px" fill="#131722" textLength="51.37" lengthAdjust="spacingAndGlyphs">−1348.15</text>
<text x="272.0" y="12.95" font-size="12.8px" fill="#131722" textLength="48.26" lengthAdjust="spacingAndGlyphs">(−2.79%)</text>
<text x="325.22" y="12.95" font-size="12.8px" font-weight="bold" fill="#131722" textLength="12.87" lengthAdjust="spacingAndGlyphs">O:</text>
<text x="339.78" y="12.95" font-size="12.8px" fill="#ef5350" textLength="52.37" lengthAdjust="spacingAndGlyphs">48353.09</text>
<text x="395.98" y="12.95" font-size="12.8px" font-weight="bold" fill="#131722" textLength="12.65" lengthAdjust="spacingAndGlyphs">H:</text>
<text x="410.22" y="12.95" font-size="12.8px" fill="#ef5350" textLength="52.25" lengthAdjust="spacingAndGlyphs">48356.56</text>
<text x="468.0" y="12.95" font-size="12.8px" font-weight="bold" fill="#131722" textLength="9.05" lengthAdjust="spacingAndGlyphs">L:</text>
<text x="478.22" y="12.95" font-size="12.8px" fill="#ef5350" textLength="52.25" lengthAdjust="spacingAndGlyphs">46294.00</text>
<text x="535.22" y="12.95" font-size="12.8px" font-weight="bold" fill="#131722" textLength="11.32" lengthAdjust="spacingAndGlyphs">C:</text>
<text x="547.9" y="12.95" font-size="12.8px" fill="#ef5350" textLength="51.35" lengthAdjust="spacingAndGlyphs">47012.35</text>
<g fill="#2196f3">
<circle cx="10.6" cy="773.2" r="4.75"/>
<circle cx="17.05" cy="768.25" r="5.3"/>
<circle cx="25.9" cy="770.3" r="3.4"/>
<circle cx="28.0" cy="773.9" r="4.0"/>
<rect x="10.6" y="770" width="17.4" height="7.9"/>
<path d="M21.2 767.9 L23.4 767.7 L24.2 768.2 L24.2 771 L21.2 771 Z"/>
</g>
<path d="M6.3 775.8 L15.7 768.65 L22.05 774.35 L28.4 767.5" fill="none" stroke="#ffffff" stroke-width="1.05" stroke-linecap="butt" stroke-linejoin="round"/>
<circle cx="15.7" cy="768.65" r="1.65" fill="#ffffff"/>
<circle cx="22.05" cy="774.35" r="1.8" fill="#ffffff"/>
<text x="33.88" y="775" font-size="12.7px" fill="#131722" textLength="70.05" lengthAdjust="spacingAndGlyphs">TradingView</text>
</svg>
</body></html>
